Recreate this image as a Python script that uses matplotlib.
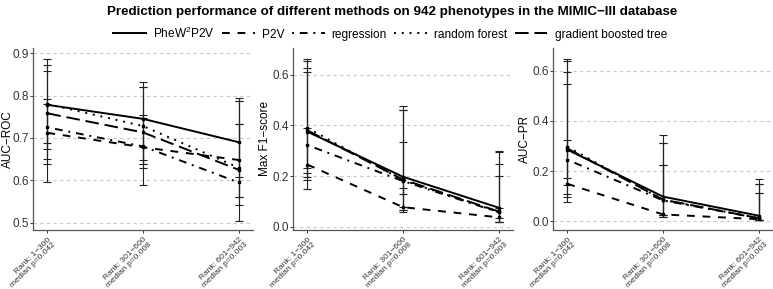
import numpy as np
import matplotlib
matplotlib.use("Agg")
import matplotlib.pyplot as plt

plt.rcParams['font.family'] = ['Liberation Sans', 'DejaVu Sans']
plt.rcParams['mathtext.fontset'] = 'custom'
plt.rcParams['mathtext.rm'] = 'Liberation Sans'
plt.rcParams['mathtext.default'] = 'regular'

# ---- data -------------------------------------------------------------
methods = ['PheW$^2$P2V', 'P2V', 'regression', 'random forest', 'gradient boosted tree']
ranks = ['Rank: 1−300\nmedian p=0.042',
         'Rank: 301−600\nmedian p=0.008',
         'Rank: 601−942\nmedian p=0.003']

# rows = methods, columns = rank groups
roc_mean = [[0.778, 0.745, 0.690],
            [0.712, 0.678, 0.648],
            [0.725, 0.680, 0.595],
            [0.780, 0.728, 0.630],
            [0.758, 0.713, 0.625]]
roc_low = [[0.650, 0.628, 0.561],
           [0.597, 0.590, 0.543],
           [0.638, 0.638, 0.505],
           [0.687, 0.648, 0.609],
           [0.675, 0.638, 0.561]]
roc_high = [[0.887, 0.831, 0.794],
            [0.858, 0.821, 0.786],
            [0.871, 0.821, 0.733],
            [0.780, 0.753, 0.786],
            [0.791, 0.746, 0.733]]

f1_mean = [[0.375, 0.197, 0.075],
           [0.245, 0.077, 0.037],
           [0.322, 0.180, 0.057],
           [0.390, 0.183, 0.058],
           [0.380, 0.186, 0.060]]
f1_low = [[0.185, 0.066, 0.020],
          [0.148, 0.057, 0.020],
          [0.197, 0.066, 0.020],
          [0.212, 0.076, 0.020],
          [0.230, 0.130, 0.033]]
f1_high = [[0.661, 0.478, 0.299],
           [0.390, 0.153, 0.073],
           [0.612, 0.460, 0.246],
           [0.653, 0.334, 0.295],
           [0.625, 0.460, 0.200]]

pr_mean = [[0.285, 0.098, 0.022],
           [0.149, 0.027, 0.008],
           [0.245, 0.083, 0.012],
           [0.297, 0.085, 0.013],
           [0.290, 0.086, 0.012]]
pr_low = [[0.098, 0.023, 0.005],
          [0.078, 0.016, 0.005],
          [0.109, 0.016, 0.005],
          [0.145, 0.023, 0.005],
          [0.171, 0.023, 0.005]]
pr_high = [[0.647, 0.342, 0.169],
           [0.322, 0.222, 0.112],
           [0.546, 0.311, 0.149],
           [0.639, 0.311, 0.149],
           [0.594, 0.222, 0.112]]

# ---- styles -----------------------------------------------------------
styles = ['-', (0, (4, 4)), (0, (1, 3, 4, 3)), (0, (1, 3)), (0, (7, 3))]

W, H = 773, 289
fig = plt.figure(figsize=(W / 100, H / 100), dpi=100)

panels = [
    (33, 'AUC−ROC', roc_mean, roc_low, roc_high, (0.483, 0.912), [0.5, 0.6, 0.7, 0.8, 0.9], -0.113),
    (293, 'Max F1−score', f1_mean, f1_low, f1_high, (-0.013, 0.705), [0.0, 0.2, 0.4, 0.6], -0.125),
    (553, 'AUC−PR', pr_mean, pr_low, pr_high, (-0.035, 0.69), [0.0, 0.2, 0.4, 0.6], -0.128),
]

x = np.arange(len(ranks))
for left, ylab, mean, low, high, ylim, yt, labx in panels:
    ax = fig.add_axes([left / W, (H - 230) / H, 220 / W, 182 / H])
    for i in range(len(methods)):
        m = np.array(mean[i])
        lo = m - np.array(low[i])
        hi = np.array(high[i]) - m
        ax.errorbar(x, m, yerr=[lo, hi], fmt='none', ecolor='#222222',
                    elinewidth=0.8, capsize=3, capthick=0.8, zorder=2)
        ax.plot(x, m, color='black', lw=1.4, linestyle=styles[i],
                marker='s', ms=1.8, zorder=3)
    ax.set_xlim(-0.15, 2.15)
    ax.set_ylim(*ylim)
    ax.set_yticks(yt)
    ax.set_yticklabels(['%.1f' % v for v in yt])
    ax.yaxis.grid(True, linestyle=(0, (3, 3)), color='#c8c8c8', lw=0.8)
    ax.set_axisbelow(True)
    ax.set_xticks(x)
    ax.set_xticklabels(ranks, rotation=45, ha='right', va='top',
                       rotation_mode='anchor', fontsize=6.0, color='#4d4d4d',
                       multialignment='right', linespacing=1.0)
    ax.tick_params(axis='y', labelsize=8.5, colors='#333333', length=2,
                   width=0.7, pad=0.8)
    ax.tick_params(axis='x', length=2.5, width=0.7, colors='#333333', pad=2)
    ax.set_ylabel(ylab, fontsize=8.5, va='center')
    ax.yaxis.set_label_coords(labx, 0.5)
    for s in ['top', 'right']:
        ax.spines[s].set_visible(False)
    for s in ['left', 'bottom']:
        ax.spines[s].set_color('#555555')
        ax.spines[s].set_linewidth(0.9)

fig.text(392 / W, 1 - 12 / H,
         'Prediction performance of different methods on 942 phenotypes in the MIMIC−III database',
         ha='center', va='center', fontsize=9.6, fontweight='bold')

fig.legend(handles=[plt.Line2D([], [], color='black', lw=1.4, linestyle=s) for s in styles],
           labels=methods, loc='center', bbox_to_anchor=(390 / W, 1 - 33 / H),
           ncol=5, frameon=False, fontsize=8.6, handlelength=2.75,
           columnspacing=0.6, handletextpad=0.6)

fig.savefig('out.png', dpi=100)
